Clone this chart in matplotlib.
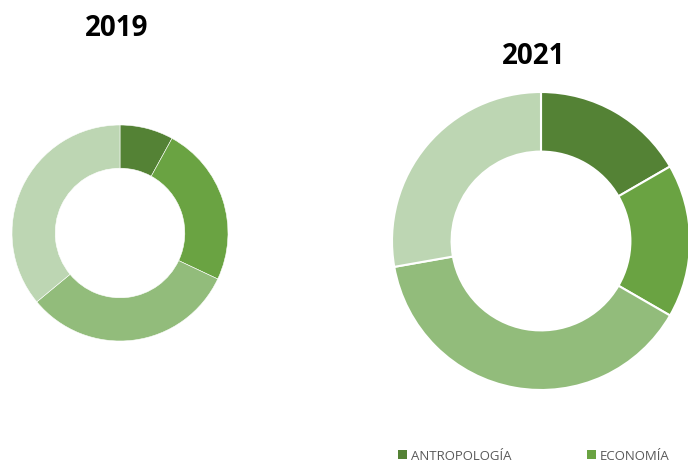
import matplotlib
matplotlib.use("Agg")
import matplotlib.pyplot as plt
from matplotlib.patches import Patch

# DATA
years = ['2019', '2021']
legend_labels = ['ANTROPOLOGÍA', 'ECONOMÍA']
values_2019 = [2, 6, 8, 9]
values_2021 = [3, 3, 7, 5]
colors = ['#548235', '#6AA342', '#92BC7B', '#BDD6B3']

W, H = 688, 463
fig = plt.figure(figsize=(W / 100, H / 100), dpi=100)

def px_axes(left, top, size):
    # axes box given in pixels from the top-left corner
    return fig.add_axes([left / W, (H - top - size) / H, size / W, size / H])

def donut(ax, values, edge_lw):
    ax.pie(values, colors=colors, startangle=90, counterclock=False, radius=1,
           wedgeprops=dict(width=0.4, edgecolor='white', linewidth=edge_lw))
    ax.set_xlim(-1, 1)
    ax.set_ylim(-1, 1)
    ax.set_aspect('equal')
    ax.axis('off')

ax1 = px_axes(12, 125, 216)
donut(ax1, values_2019, 0.4)
ax2 = px_axes(392, 92, 298)
donut(ax2, values_2021, 1.5)

fig.text(117 / W, 1 - 28 / H, years[0], fontsize=20, fontweight='bold',
         family='Open Sans', ha='center', va='center', color='black')
fig.text(534 / W, 1 - 57 / H, years[1], fontsize=20, fontweight='bold',
         family='Open Sans', ha='center', va='center', color='black')

handles = [Patch(facecolor=c, edgecolor='none') for c in colors[:2]]
leg = fig.legend(handles, legend_labels, ncol=2, frameon=False,
                 loc='center left', bbox_to_anchor=(398 / W, 1 - 456 / H),
                 borderpad=0, borderaxespad=0, handlelength=0.68, handleheight=0.68,
                 handletextpad=0.3, columnspacing=5.7,
                 prop={'family': 'Open Sans', 'size': 9.5})
for t in leg.get_texts():
    t.set_color('#595959')

fig.savefig('out.png', dpi=100)
